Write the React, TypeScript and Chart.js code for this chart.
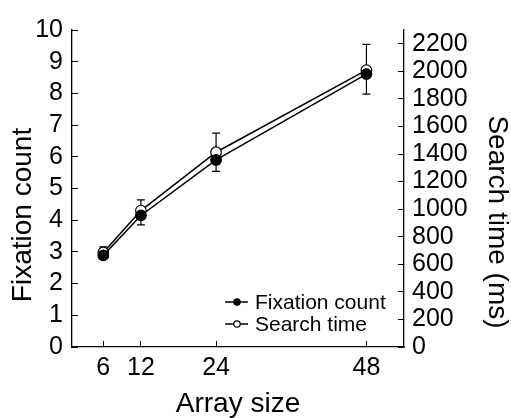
import { useEffect, useRef } from "react";
import { Chart, registerables } from "chart.js";

Chart.register(...registerables);

// Array sizes (x) and the two measures with their standard errors
const arraySizes = [6, 12, 24, 48];
const fixationCount = [2.89, 4.15, 5.9, 8.61];
const fixationSE = [0.1, 0.3, 0.36, 0.63];
const searchTime = [686, 990, 1413, 2009];
const searchSE = [41, 77, 139, 187];

// Tick values for the three axes
const xTickValues = [6, 12, 24, 48];
const leftTickValues = [0, 1, 2, 3, 4, 5, 6, 7, 8, 9, 10];
const rightTickValues = [0, 200, 400, 600, 800, 1000, 1200, 1400, 1600, 1800, 2000, 2200];

const xTitle = "Array size";
const leftTitle = "Fixation count";
const rightTitle = "Search time (ms)";

const FONT = "'Liberation Sans', Arial, Helvetica, sans-serif";
const INK = "#000000";

// One-sided error bars: fixation count downward, search time upward
const errorBars = {
  id: "errorBars",
  beforeDatasetsDraw(chart: any) {
    const ctx = chart.ctx;
    const xs = chart.scales.x;
    const specs = [
      { axis: "yFix", means: fixationCount, errs: fixationSE, dir: -1 },
      { axis: "yTime", means: searchTime, errs: searchSE, dir: 1 },
    ];
    ctx.save();
    ctx.strokeStyle = INK;
    ctx.lineWidth = 1.2;
    for (const s of specs) {
      const ys = chart.scales[s.axis];
      s.means.forEach((m, i) => {
        const px = xs.getPixelForValue(arraySizes[i]);
        const y0 = ys.getPixelForValue(m);
        const y1 = ys.getPixelForValue(m + s.dir * s.errs[i]);
        ctx.beginPath();
        ctx.moveTo(px, y0);
        ctx.lineTo(px, y1);
        ctx.moveTo(px - 4, y1);
        ctx.lineTo(px + 4, y1);
        ctx.stroke();
      });
    }
    ctx.restore();
  },
};

// Legend inside the lower right of the plot
const insideLegend = {
  id: "insideLegend",
  afterDraw(chart: any) {
    const { ctx, chartArea } = chart;
    const lineX0 = chartArea.right - 179;
    const lineX1 = lineX0 + 23;
    const markX = lineX0 + 12;
    const textX = lineX0 + 30;
    const rowY = [chartArea.bottom - 45, chartArea.bottom - 23];
    ctx.save();
    ctx.font = `21px ${FONT}`;
    ctx.textBaseline = "middle";
    ctx.textAlign = "left";
    chart.data.datasets.forEach((ds: any, i: number) => {
      const y = rowY[i];
      ctx.strokeStyle = INK;
      ctx.lineWidth = 1.5;
      ctx.beginPath();
      ctx.moveTo(lineX0, y);
      ctx.lineTo(lineX1, y);
      ctx.stroke();
      ctx.beginPath();
      ctx.arc(markX, y, 3.2, 0, Math.PI * 2);
      ctx.fillStyle = ds.pointBackgroundColor;
      ctx.fill();
      ctx.lineWidth = 1.2;
      ctx.stroke();
      ctx.fillStyle = INK;
      ctx.fillText(ds.label, textX, y + 1);
    });
    ctx.restore();
  },
};

// Axis titles
const axisTitles = {
  id: "axisTitles",
  afterDraw(chart: any) {
    const { ctx, chartArea } = chart;
    ctx.save();
    ctx.fillStyle = INK;
    ctx.font = `28px ${FONT}`;
    ctx.textAlign = "center";
    ctx.textBaseline = "middle";
    ctx.fillText(xTitle, (chartArea.left + chartArea.right) / 2, chartArea.bottom + 57);

    ctx.save();
    ctx.translate(chartArea.left - 49, chartArea.top + 185);
    ctx.rotate(-Math.PI / 2);
    ctx.fillText(leftTitle, 0, 0);
    ctx.restore();

    ctx.save();
    ctx.translate(chartArea.right + 93, chartArea.top + 192);
    ctx.rotate(Math.PI / 2);
    ctx.fillText(rightTitle, 0, 0);
    ctx.restore();
    ctx.restore();
  },
};

function axisStyle(tickValues: number[], padding: number) {
  return {
    afterBuildTicks: (scale: any) => {
      scale.ticks = tickValues.map((v) => ({ value: v }));
    },
    grid: {
      drawOnChartArea: false,
      drawTicks: true,
      tickLength: -6,
      color: INK,
      lineWidth: 1,
    },
    border: { color: INK, width: 1.3 },
    ticks: {
      color: INK,
      font: { family: FONT, size: 25 },
      padding,
      autoSkip: false,
      maxRotation: 0,
      callback: (v: any) => String(v),
    },
  };
}

export default function App() {
  const canvasRef = useRef<HTMLCanvasElement | null>(null);

  useEffect(() => {
    if (!canvasRef.current) return;
    const chart = new Chart(canvasRef.current, {
      type: "line",
      data: {
        datasets: [
          {
            label: "Fixation count",
            data: arraySizes.map((x, i) => ({ x, y: fixationCount[i] })),
            yAxisID: "yFix",
            borderColor: INK,
            borderWidth: 1.5,
            pointRadius: 5.3,
            pointBorderWidth: 1.2,
            pointBackgroundColor: INK,
            pointBorderColor: INK,
            tension: 0,
          },
          {
            label: "Search time",
            data: arraySizes.map((x, i) => ({ x, y: searchTime[i] })),
            yAxisID: "yTime",
            borderColor: INK,
            borderWidth: 1.5,
            pointRadius: 5.3,
            pointBorderWidth: 1.2,
            pointBackgroundColor: "#ffffff",
            pointBorderColor: INK,
            tension: 0,
          },
        ],
      },
      options: {
        animation: false,
        responsive: false,
        layout: { padding: { top: 15, left: 0, right: 0, bottom: 0 } },
        plugins: {
          legend: { display: false },
          tooltip: { enabled: false },
        },
        scales: {
          x: {
            type: "linear",
            position: "bottom",
            min: 1,
            max: 54,
            afterFit: (s: any) => {
              s.height = 71;
            },
            ...axisStyle(xTickValues, 12),
          },
          yFix: {
            type: "linear",
            position: "left",
            min: 0,
            max: 10,
            afterFit: (s: any) => {
              s.width = 72;
            },
            ...axisStyle(leftTickValues, 15),
          },
          yTime: {
            type: "linear",
            position: "right",
            min: 0,
            max: 2300,
            afterFit: (s: any) => {
              s.width = 107;
            },
            ...axisStyle(rightTickValues, 14),
          },
        },
      } as any,
      plugins: [errorBars, insideLegend, axisTitles],
    });
    return () => chart.destroy();
  }, []);

  return (
    <div style={{ position: "absolute", left: 0, top: 0, width: 511, height: 418, background: "#fff" }}>
      <canvas ref={canvasRef} width={511} height={418} style={{ display: "block" }} />
    </div>
  );
}
